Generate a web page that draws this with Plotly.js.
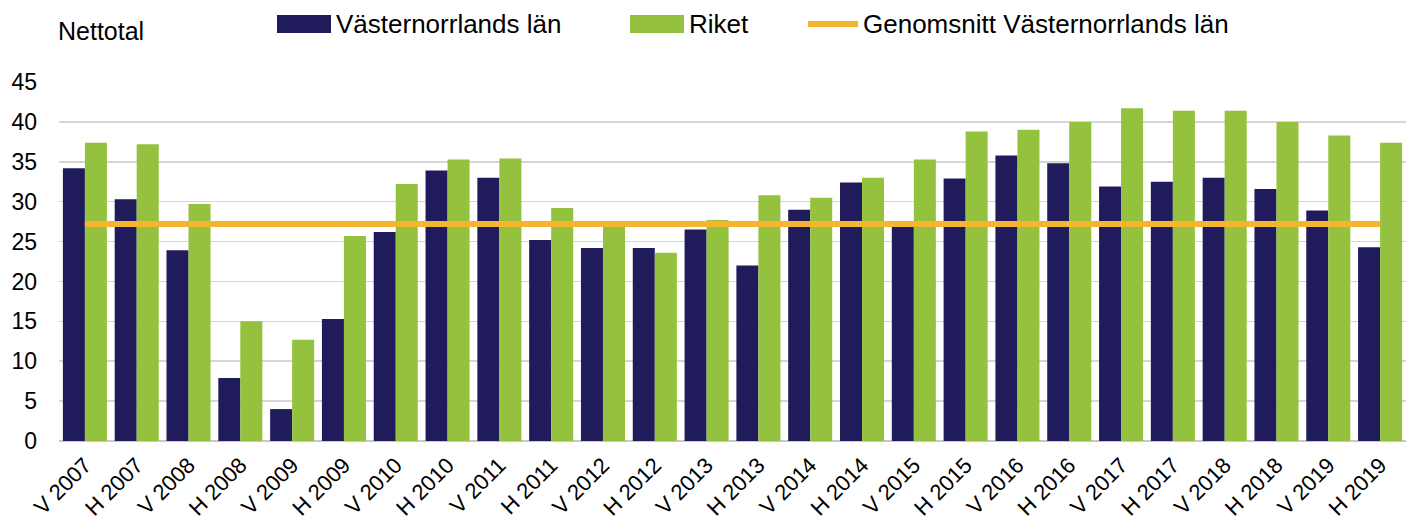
<!DOCTYPE html>
<html>
<head>
<meta charset="utf-8">
<script src="https://cdn.plot.ly/plotly-3.0.1.min.js"></script>
<style>html,body{margin:0;padding:0;background:#fff;}#chart{width:1406px;height:529px;}</style>
</head>
<body>
<div id="chart"></div>
<script>
const categories = ["V 2007","H 2007","V 2008","H 2008","V 2009","H 2009","V 2010","H 2010","V 2011","H 2011","V 2012","H 2012","V 2013","H 2013","V 2014","H 2014","V 2015","H 2015","V 2016","H 2016","V 2017","H 2017","V 2018","H 2018","V 2019","H 2019"];
const vasternorrland = [34.2,30.3,23.9,7.9,4.0,15.3,26.2,33.9,33.0,25.2,24.2,24.2,26.5,22.0,29.0,32.4,27.0,32.9,35.8,34.8,31.9,32.5,33.0,31.6,28.9,24.3];
const riket = [37.4,37.2,29.7,15.0,12.7,25.7,32.2,35.3,35.4,29.2,26.9,23.6,27.7,30.8,30.5,33.0,35.3,38.8,39.0,40.0,41.7,41.4,41.4,40.0,38.3,37.4];
const average = 27.2;
const yTicks = [0,5,10,15,20,25,30,35,40,45];

const navy = "#201b5b", green = "#94c13e", orange = "#f6b530";
const W = 1406, H = 529, ML = 59, MR = 0, MT = 82, MB = 88;
const px = x => (x - ML) / (W - ML - MR);
const py = y => (H - MB - y) / (H - MT - MB);

const traces = [
  {type:"bar", name:"Västernorrlands län", x:categories, y:vasternorrland, marker:{color:navy}, showlegend:false},
  {type:"bar", name:"Riket", x:categories, y:riket, marker:{color:green}, showlegend:false},
  {type:"scatter", mode:"lines", name:"Genomsnitt Västernorrlands län",
   x:[categories[0], categories[categories.length-1]], y:[average, average],
   line:{color:orange, width:6}, showlegend:false}
];

const font = "Liberation Sans, Arial, sans-serif";
const legendItems = [
  {label:"Västernorrlands län", color:navy, kind:"rect", x0:277, x1:331},
  {label:"Riket", color:green, kind:"rect", x0:630, x1:684},
  {label:"Genomsnitt Västernorrlands län", color:orange, kind:"line", x0:808, x1:858}
];
const shapes = [], annotations = [];
legendItems.forEach(it => {
  if (it.kind === "rect") {
    shapes.push({type:"rect", xref:"paper", yref:"paper", x0:px(it.x0), x1:px(it.x1), y0:py(33), y1:py(15), fillcolor:it.color, line:{width:0}});
  } else {
    shapes.push({type:"line", xref:"paper", yref:"paper", x0:px(it.x0), x1:px(it.x1), y0:py(24), y1:py(24), line:{color:it.color, width:6}});
  }
  annotations.push({xref:"paper", yref:"paper", x:px(it.x1+3), y:py(24), xanchor:"left", yanchor:"middle", text:it.label, showarrow:false, font:{family:font, size:26, color:"#000"}});
});
annotations.push({xref:"paper", yref:"paper", x:px(56), y:py(31), xanchor:"left", yanchor:"middle", text:"Nettotal", showarrow:false, font:{family:font, size:25, color:"#000"}});

const layout = {
  width:W, height:H,
  margin:{l:ML, r:MR, t:MT, b:MB, pad:0},
  paper_bgcolor:"#fff", plot_bgcolor:"#fff",
  barmode:"group", bargap:0.15, bargroupgap:0,
  showlegend:false,
  font:{family:font, color:"#000"},
  xaxis:{type:"category", tickangle:-45, tickfont:{family:font, size:22, color:"#000"}, showgrid:false, showline:false, ticks:"", ticklabelstandoff:6, automargin:false, fixedrange:true},
  yaxis:{range:[0,45], tickvals:yTicks, ticktext:yTicks.map(String), tickfont:{family:font, size:23, color:"#000"}, showgrid:true, gridcolor:"#d6d6d6", gridwidth:1.5, zeroline:true, zerolinecolor:"#c8c8c8", zerolinewidth:2, showline:false, ticks:"", ticklabelstandoff:21, automargin:false, fixedrange:true},
  shapes:shapes, annotations:annotations
};
Plotly.newPlot("chart", traces, layout, {displayModeBar:false, staticPlot:true});
</script>
</body>
</html>
